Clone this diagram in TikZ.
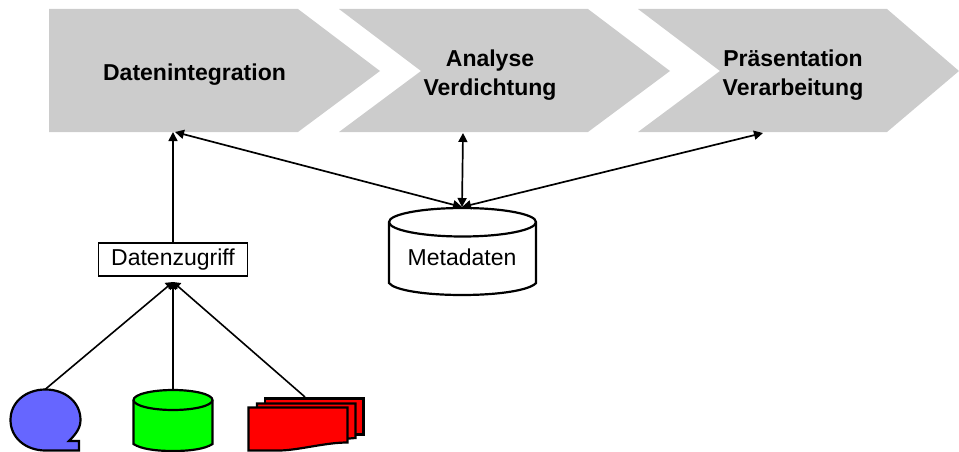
\documentclass[tikz,border=0pt]{standalone}
\usepackage{fontspec}
\setmainfont{Liberation Sans}
\usetikzlibrary{arrows.meta}
\definecolor{chev}{RGB}{204,204,204}
\definecolor{blob}{RGB}{102,102,255}
\tikzset{
  x=1pt,y=-1pt,
  chevron/.style={fill=chev,draw=none},
  outl/.style={draw=black,line width=2.2pt,line join=miter},
  chevtext/.style={font=\fontsize{23}{29}\selectfont\bfseries,align=center,text=black,inner sep=0pt},
  plain/.style={font=\fontsize{23}{27}\selectfont,text=black,inner sep=0pt},
  twoway/.style={line width=1.7pt,{Triangle[length=9pt,width=9pt]}-{Triangle[length=9pt,width=9pt]}},
  oneway/.style={line width=1.7pt,-{Triangle[length=9pt,width=9pt]}},
  feed/.style={line width=1.6pt,-{Triangle[length=7pt,width=9pt]}},
}
\begin{document}
\begin{tikzpicture}
\useasboundingbox (0,0) rectangle (959,452);
% chevrons
\fill[chevron] (49,9)--(298,9)--(380,71)--(298,132)--(49,132)--cycle;
\fill[chevron] (339,9)--(588,9)--(670,71)--(588,132)--(339,132)--(421,71)--cycle;
\fill[chevron] (638,9)--(887,9)--(959,71)--(887,132)--(638,132)--(720,71)--cycle;
\node[chevtext] (integ) at (194.5,74.5) {Datenintegration};
\node[chevtext] (analyse) at (490,75) {Analyse\\Verdichtung};
\node[chevtext] (praes) at (793,75) {Präsentation\\Verarbeitung};
% anchors on chevrons
\coordinate (intA) at (173,132);
\coordinate (intB) at (175,132);
\coordinate (anaB) at (463,133);
\coordinate (praB) at (763,133);
% metadata cylinder
\draw[outl,fill=white] (389,222) arc[x radius=73.5,y radius=14,start angle=180,end angle=360]
  -- (536,283) .. controls (530,290) and (500,295) .. (462,295) .. controls (424,295) and (394,290) .. (389,283) -- cycle;
\draw[outl] (389,222) arc[x radius=73.5,y radius=14.5,start angle=180,end angle=0];
\node[plain] (meta) at (462,257) {Metadaten};
\coordinate (metaT) at (462,207);
% access box
\node[draw=black,line width=1.8pt,fill=white,minimum width=149pt,minimum height=33pt,inner sep=0pt,font=\fontsize{23}{27}\selectfont] (zug) at (173,259.5) {Datenzugriff};
\coordinate (zugB) at (173,282);
% connectors
\draw[oneway] (zug.north) -- (intA);
\draw[twoway] (intB) -- (metaT);
\draw[twoway] (anaB) -- (metaT);
\draw[twoway] (praB) -- (metaT);
% sources
\draw[outl,fill=blob] (79,450.5) -- (79,441) -- (69,441)
  .. controls (76,434) and (80.5,428) .. (80.5,420)
  .. controls (80.5,402) and (65,389.5) .. (45.5,389.5)
  .. controls (26,389.5) and (10.5,402) .. (10.5,420)
  .. controls (10.5,438) and (26,450.5) .. (45.5,450.5) -- cycle;
\coordinate (srcA) at (45,389.5);
\draw[outl,fill=green] (133.5,400) arc[x radius=39.5,y radius=10,start angle=180,end angle=360]
  -- (212.5,444) .. controls (205,449) and (190,451) .. (173,451) .. controls (156,451) and (141,449) .. (133.5,444) -- cycle;
\draw[outl] (133.5,400) arc[x radius=39.5,y radius=10,start angle=180,end angle=0];
\coordinate (srcB) at (173,390);
\draw[outl,fill=red] (265,398.5) -- (363.5,398.5) -- (363.5,434.5) -- (265,434.5) -- cycle;
\draw[outl,fill=red] (257,403.5) -- (355.5,403.5) -- (355.5,438) -- (257,446) -- cycle;
\draw[outl,fill=red] (248.5,407.5) -- (347.5,407.5) -- (347.5,442.5)
  .. controls (325,442.5) and (300,450) .. (280,450.5) -- (248.5,450.5) -- cycle;
\coordinate (srcC) at (305,397);
\draw[feed] (srcA) -- (zugB);
\draw[feed] (srcB) -- (zugB);
\draw[feed] (srcC) -- (zugB);
\end{tikzpicture}
\end{document}
